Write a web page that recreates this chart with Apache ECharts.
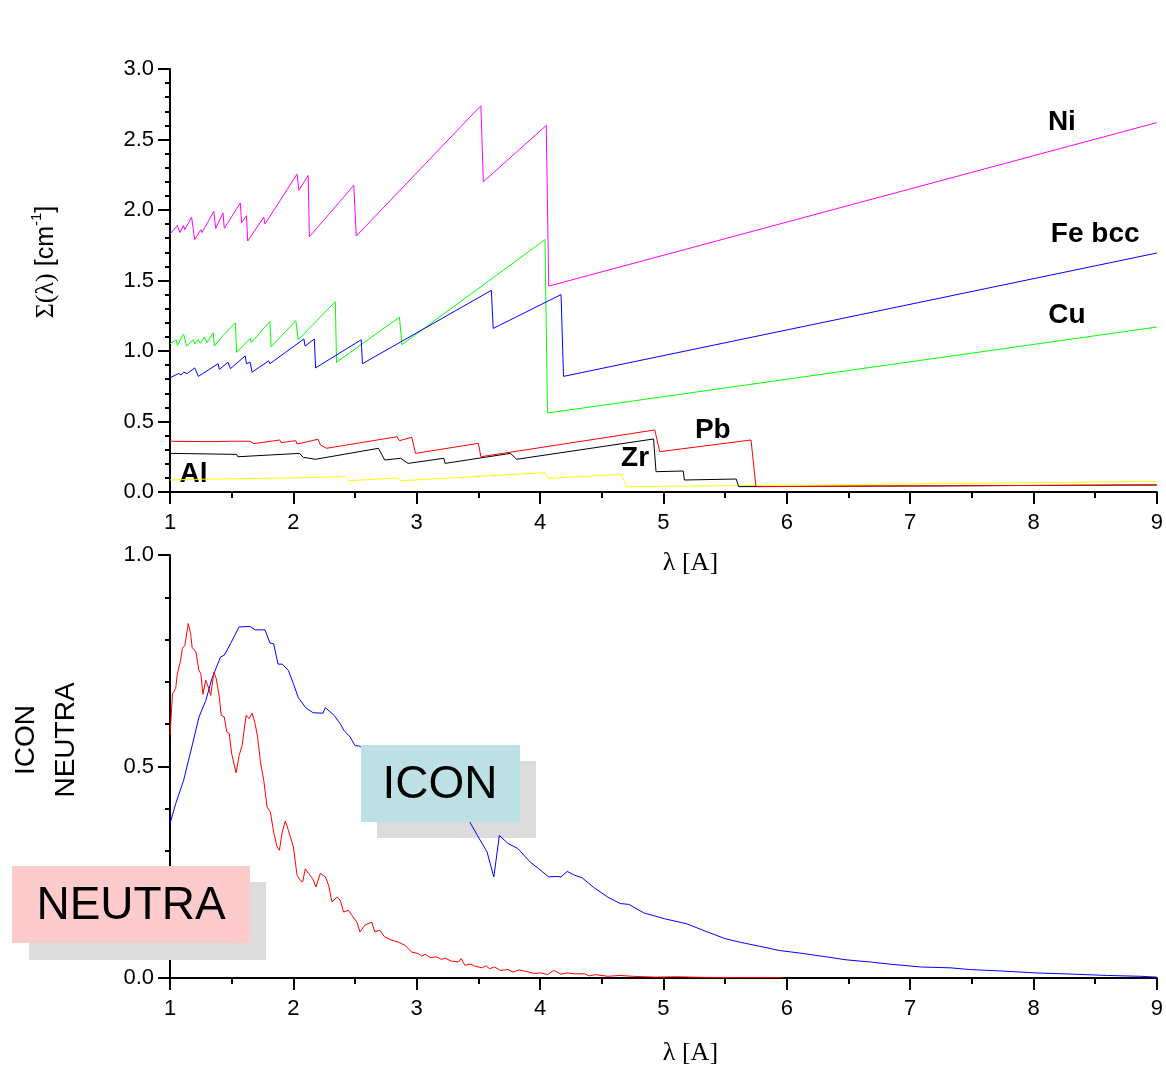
<!DOCTYPE html>
<html>
<head>
<meta charset="utf-8">
<script src="https://cdn.jsdelivr.net/npm/echarts@6/dist/echarts.min.js"></script>
<style>
  html, body { margin: 0; padding: 0; background: #fff; }
  #main { width: 1166px; height: 1073px; }
</style>
</head>
<body>
<div id="main"></div>
<script>
// cross sections, top panel  [lambda, sigma]
const ni = [[1.00,1.83],[1.06,1.89],[1.08,1.84],[1.11,1.89],[1.12,1.86],[1.175,1.95],[1.20,1.79],[1.25,1.86],[1.26,1.84],[1.355,1.99],[1.37,1.87],[1.43,1.98],[1.44,1.87],[1.57,2.05],[1.58,1.91],[1.62,1.96],[1.63,1.78],[1.73,1.91],[1.76,1.95],[1.77,1.90],[2.03,2.255],[2.045,2.14],[2.12,2.245],[2.13,1.81],[2.49,2.175],[2.51,1.815],[3.52,2.74],[3.54,2.20],[4.05,2.60],[4.07,1.46],[9.0,2.62]];
const cu = [[1.00,1.05],[1.05,1.08],[1.06,1.04],[1.11,1.12],[1.135,1.035],[1.19,1.08],[1.20,1.05],[1.23,1.08],[1.245,1.055],[1.28,1.10],[1.30,1.06],[1.35,1.13],[1.36,1.035],[1.43,1.11],[1.53,1.20],[1.54,0.99],[1.65,1.09],[1.66,1.06],[1.81,1.21],[1.82,1.03],[2.02,1.215],[2.04,1.08],[2.34,1.35],[2.35,0.92],[2.86,1.24],[2.88,1.045],[4.04,1.79],[4.06,0.56],[9.0,1.17]];
const fe = [[1.00,0.81],[1.07,0.84],[1.09,0.83],[1.11,0.85],[1.14,0.84],[1.20,0.88],[1.23,0.82],[1.39,0.91],[1.40,0.87],[1.47,0.92],[1.49,0.875],[1.61,0.965],[1.62,0.91],[1.65,0.92],[1.665,0.85],[1.80,0.93],[1.81,0.91],[2.085,1.085],[2.095,1.035],[2.17,1.085],[2.18,0.88],[2.55,1.08],[2.56,0.91],[3.605,1.43],[3.62,1.16],[4.17,1.40],[4.19,0.82],[9.0,1.695]];
const pb = [[1.00,0.36],[1.30,0.357],[1.50,0.36],[1.65,0.36],[1.68,0.343],[1.89,0.369],[1.90,0.35],[2.02,0.364],[2.03,0.34],[2.20,0.374],[2.22,0.333],[2.27,0.31],[2.84,0.392],[2.86,0.364],[2.96,0.388],[2.99,0.274],[3.50,0.345],[3.52,0.25],[4.93,0.44],[4.97,0.286],[5.71,0.369],[5.75,0.038],[9.0,0.05]];
const zr = [[1.00,0.274],[1.30,0.27],[1.54,0.267],[1.55,0.25],[2.05,0.274],[2.08,0.246],[2.18,0.232],[2.69,0.31],[2.74,0.227],[2.87,0.239],[2.93,0.203],[3.22,0.239],[3.23,0.203],[3.76,0.274],[3.81,0.232],[4.92,0.376],[4.94,0.144],[5.16,0.149],[5.17,0.085],[5.59,0.092],[5.61,0.038],[9.0,0.05]];
const al = [[1.00,0.085],[1.20,0.09],[1.21,0.08],[1.60,0.095],[1.61,0.085],[2.00,0.10],[2.42,0.109],[2.45,0.08],[2.85,0.10],[2.87,0.08],[4.04,0.137],[4.07,0.097],[4.66,0.125],[4.70,0.038],[5.6,0.045],[9.0,0.075]];

// element names and where they sit (data coords)
const elemNames = ['Ni', 'Fe bcc', 'Cu', 'Pb', 'Zr', 'Al'];
const elemPos = [[8.23,2.62],[8.50,1.83],[8.27,1.25],[5.40,0.44],[4.77,0.24],[1.19,0.128]];

// spectra, bottom panel
const icon = [[1.00,0.365],[1.046,0.412],[1.11,0.467],[1.18,0.55],[1.235,0.617],[1.29,0.656],[1.34,0.708],[1.41,0.759],[1.44,0.763],[1.49,0.79],[1.56,0.83],[1.65,0.831],[1.69,0.823],[1.77,0.823],[1.81,0.792],[1.84,0.79],[1.876,0.742],[1.91,0.742],[1.96,0.727],[2.00,0.696],[2.04,0.663],[2.10,0.639],[2.16,0.627],[2.24,0.626],[2.26,0.639],[2.33,0.621],[2.38,0.601],[2.41,0.585],[2.46,0.57],[2.50,0.549],[2.53,0.549],[2.70,0.52],[2.90,0.48],[3.10,0.44],[3.30,0.40],[3.43,0.369],[3.50,0.333],[3.57,0.298],[3.625,0.239],[3.67,0.337],[3.74,0.318],[3.82,0.306],[3.92,0.274],[3.99,0.258],[4.07,0.239],[4.13,0.24],[4.17,0.239],[4.22,0.252],[4.28,0.243],[4.34,0.237],[4.44,0.213],[4.55,0.191],[4.65,0.176],[4.72,0.174],[4.84,0.154],[5.01,0.14],[5.19,0.128],[5.32,0.113],[5.50,0.093],[5.63,0.084],[5.78,0.075],[5.94,0.065],[6.13,0.058],[6.32,0.05],[6.48,0.043],[6.67,0.038],[6.86,0.032],[7.09,0.026],[7.33,0.024],[7.48,0.02],[7.71,0.017],[8.02,0.012],[8.33,0.009],[8.60,0.006],[8.87,0.004],[9.0,0.002]];
const neutra = [[1.00,0.574],[1.02,0.672],[1.046,0.684],[1.06,0.72],[1.086,0.751],[1.10,0.779],[1.12,0.786],[1.148,0.838],[1.167,0.814],[1.18,0.781],[1.21,0.771],[1.234,0.727],[1.25,0.72],[1.267,0.671],[1.29,0.704],[1.31,0.688],[1.33,0.668],[1.356,0.723],[1.375,0.708],[1.40,0.664],[1.415,0.621],[1.44,0.617],[1.46,0.582],[1.48,0.578],[1.50,0.53],[1.536,0.485],[1.56,0.526],[1.585,0.55],[1.617,0.621],[1.64,0.613],[1.666,0.626],[1.69,0.601],[1.71,0.57],[1.733,0.511],[1.76,0.467],[1.787,0.404],[1.814,0.392],[1.84,0.345],[1.868,0.31],[1.887,0.302],[1.91,0.345],[1.935,0.371],[1.96,0.349],[2.00,0.31],[2.03,0.243],[2.056,0.231],[2.075,0.227],[2.097,0.258],[2.124,0.247],[2.156,0.235],[2.183,0.215],[2.218,0.247],[2.26,0.239],[2.286,0.219],[2.313,0.18],[2.353,0.191],[2.38,0.184],[2.407,0.156],[2.447,0.16],[2.474,0.148],[2.515,0.132],[2.54,0.109],[2.58,0.125],[2.636,0.132],[2.66,0.109],[2.70,0.113],[2.74,0.097],[2.80,0.089],[2.85,0.085],[2.906,0.077],[2.96,0.061],[3.01,0.058],[3.04,0.052],[3.07,0.056],[3.11,0.048],[3.16,0.05],[3.20,0.044],[3.23,0.047],[3.28,0.04],[3.34,0.038],[3.36,0.046],[3.39,0.03],[3.44,0.033],[3.47,0.028],[3.53,0.024],[3.56,0.029],[3.59,0.022],[3.63,0.026],[3.68,0.018],[3.74,0.02],[3.78,0.014],[3.83,0.019],[3.88,0.016],[3.95,0.011],[4.01,0.012],[4.06,0.008],[4.11,0.018],[4.17,0.009],[4.22,0.012],[4.28,0.01],[4.36,0.01],[4.40,0.005],[4.45,0.008],[4.55,0.004],[4.65,0.006],[4.75,0.004],[4.85,0.003],[4.94,0.002],[5.1,0.003],[5.32,0.0015],[5.6,0.001],[5.96,0.001]];

var chart = echarts.init(document.getElementById('main'));

const black = '#000';
function xAx(grid, gap) {
  return {
    type: 'value', gridIndex: grid, min: 1, max: 9, interval: 1,
    name: 'λ [A]', nameLocation: 'middle', nameGap: gap,
    nameTextStyle: { fontFamily: 'Liberation Serif', fontSize: 26, color: black, padding: [0, 0, 0, 54] },
    axisLine: { onZero: false, lineStyle: { color: black, width: 2 } },
    axisTick: { length: 12, lineStyle: { color: black, width: 2 } },
    minorTick: { show: true, splitNumber: 2, length: 6, lineStyle: { color: black, width: 2 } },
    splitLine: { show: false },
    axisLabel: { color: black, fontSize: 22, fontFamily: 'Liberation Sans', margin: 20 }
  };
}
function yAx(grid, max) {
  return {
    type: 'value', gridIndex: grid, min: 0, max: max, interval: 0.5,
    axisLine: { show: true, onZero: false, lineStyle: { color: black, width: 2 } },
    axisTick: { show: true, length: 12, lineStyle: { color: black, width: 2 } },
    minorTick: { show: true, splitNumber: 5, length: 5, lineStyle: { color: black, width: 2 } },
    splitLine: { show: false },
    axisLabel: { color: black, fontSize: 22, fontFamily: 'Liberation Sans', margin: 16,
      formatter: v => v.toFixed(1) }
  };
}
function curve(data, color, x, y) {
  return {
    type: 'line', data: data, xAxisIndex: x, yAxisIndex: y,
    showSymbol: false, symbol: 'none', silent: true,
    lineStyle: { color: color, width: 1 }
  };
}

var option = {
  animation: false,
  grid: [
    { left: 170, right: 6, top: 69, height: 423 },
    { left: 170, right: 6, top: 555, height: 423 }
  ],
  xAxis: [xAx(0, 58), xAx(1, 62)],
  yAxis: [yAx(0, 3), yAx(1, 1)],
  series: [
    curve(al, '#ffff00', 0, 0),
    curve(zr, '#000000', 0, 0),
    curve(pb, '#ff0000', 0, 0),
    curve(cu, '#00ff00', 0, 0),
    curve(fe, '#0000ff', 0, 0),
    curve(ni, '#ff00ff', 0, 0),
    {
      type: 'scatter', xAxisIndex: 0, yAxisIndex: 0, symbolSize: 0, silent: true,
      itemStyle: { color: '#000', opacity: 0 },
      data: elemPos.map((p, i) => [p[0], p[1], elemNames[i]]),
      label: { show: true, position: [0, 0], align: 'center', verticalAlign: 'middle',
        formatter: p => p.value[2], opacity: 1, textBorderWidth: 0,
        fontFamily: 'Liberation Sans', fontWeight: 'bold', fontSize: 28, color: '#000000' }
    },
    curve(icon, '#0000ff', 1, 1),
    curve(neutra, '#ff0000', 1, 1)
  ],
  graphic: [
    { type: 'text', x: 46, y: 262, rotation: Math.PI / 2, z: 10,
      style: { text: '{s|Σ(λ)} [cm{sup|-1}]', fill: black, font: '25px "Liberation Sans"',
        align: 'center', verticalAlign: 'middle',
        rich: { s: { fontFamily: 'Liberation Serif', fontSize: 26, lineHeight: 34, verticalAlign: 'middle' },
                sup: { fontSize: 15, lineHeight: 34, verticalAlign: 'top' } } } },
    { type: 'text', x: 46, y: 740, rotation: Math.PI / 2, z: 10,
      style: { text: 'ICON\nNEUTRA', fill: black, font: '28px "Liberation Sans"', lineHeight: 40,
        align: 'center', verticalAlign: 'middle' } },
    // shadows under the tags
    { type: 'rect', shape: { x: 377, y: 761, width: 159, height: 77 }, z: 1, style: { fill: '#dcdcdc' } },
    { type: 'rect', shape: { x: 29, y: 882, width: 237, height: 78 }, z: 1, style: { fill: '#dcdcdc' } },
    // tags
    { type: 'rect', shape: { x: 361, y: 745, width: 159, height: 77 }, z: 100, style: { fill: '#bce0e3' } },
    { type: 'text', x: 440, y: 785, z: 101,
      style: { text: 'ICON', fill: black, font: '46px "Liberation Sans"', align: 'center', verticalAlign: 'middle' } },
    { type: 'rect', shape: { x: 12, y: 866, width: 238, height: 77 }, z: 100, style: { fill: '#fdcbcb' } },
    { type: 'text', x: 131, y: 906, z: 101,
      style: { text: 'NEUTRA', fill: black, font: '46px "Liberation Sans"', align: 'center', verticalAlign: 'middle' } }
  ]
};

chart.setOption(option);
</script>
</body>
</html>
